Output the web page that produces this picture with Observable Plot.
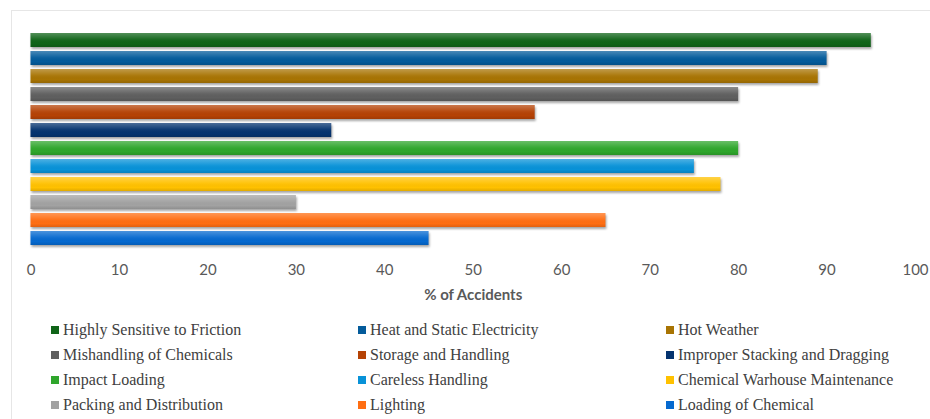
<!DOCTYPE html>
<html>
<head>
<meta charset="utf-8">
<script src="https://cdn.jsdelivr.net/npm/d3@7"></script>
<script src="https://cdn.jsdelivr.net/npm/@observablehq/plot@0.6"></script>
<style>
  html, body { margin: 0; padding: 0; background: #fff; }
  #wrap { position: relative; width: 930px; height: 419px; overflow: hidden; }
  #frame { position: absolute; left: 11px; top: 10px; width: 940px; height: 420px; border-left: 1px solid #e6e6e6; border-top: 1px solid #e6e6e6; }
  #chart { position: absolute; left: 0; top: 0; }
  #legend { position: absolute; left: 51px; top: 317px; display: grid; grid-template-columns: 307px 308px auto; grid-auto-rows: 25px;
    font-family: "Liberation Serif", "Times New Roman", serif; font-size: 16px; color: #404040; }
  .item { display: flex; align-items: center; white-space: nowrap; }
  .sw { width: 8px; height: 8px; margin-right: 4px; display: inline-block; }
</style>
</head>
<body>
<div id="wrap">
  <div id="frame"></div>
  <div id="chart"></div>
  <div id="legend"></div>
</div>
<script>
const categories = [
  "Highly Sensitive to Friction",
  "Heat and Static Electricity",
  "Hot Weather",
  "Mishandling of Chemicals",
  "Storage and Handling",
  "Improper Stacking and Dragging",
  "Impact Loading",
  "Careless Handling",
  "Chemical Warhouse Maintenance",
  "Packing and Distribution",
  "Lighting",
  "Loading of Chemical"
];
const values = [95, 90, 89, 80, 57, 34, 80, 75, 78, 30, 65, 45];
const colors = ["#0f6418", "#035b9b", "#a87403", "#5f5f5f", "#b54205", "#04336f", "#2fa62c", "#0892d8", "#ffc100", "#a2a2a2", "#ff6e12", "#0569cf"];
const xTicks = [0, 10, 20, 30, 40, 50, 60, 70, 80, 90, 100];
const xTitle = "% of Accidents";

const data = categories.map((c, i) => ({category: c, value: values[i]}));

const axisFont = `Lato, "Liberation Sans Narrow", Arial, sans-serif`;

const plot = Plot.plot({
  width: 930,
  height: 312,
  marginTop: 31,
  marginBottom: 65,
  marginLeft: 30.5,
  marginRight: 15,
  style: {fontFamily: axisFont, fontSize: "15px", color: "#595959", background: "transparent"},
  x: {domain: [0, 100], ticks: xTicks, tickSize: 0, tickPadding: 17, label: null},
  y: {domain: categories, paddingInner: 0.2, paddingOuter: 0.1, axis: null},
  color: {domain: categories, range: colors},
  marks: [
    Plot.barX(data, {y: "category", x: "value", fill: "category"}),
    Plot.barX(data, {y: "category", x: "value", fill: "url(#shade)"}),
    Plot.text([xTitle], {frameAnchor: "bottom", dy: 48, lineAnchor: "middle", fontWeight: "bold", fontSize: 15, fill: "#595959"})
  ]
});

const svg = d3.select(plot);
const defs = svg.insert("defs", ":first-child");
const g = defs.append("linearGradient").attr("id", "shade").attr("x1", 0).attr("y1", 0).attr("x2", 0).attr("y2", 1);
g.append("stop").attr("offset", "0%").attr("stop-color", "#fff").attr("stop-opacity", 0.28);
g.append("stop").attr("offset", "45%").attr("stop-color", "#fff").attr("stop-opacity", 0.05);
g.append("stop").attr("offset", "75%").attr("stop-color", "#000").attr("stop-opacity", 0.0);
g.append("stop").attr("offset", "100%").attr("stop-color", "#000").attr("stop-opacity", 0.12);
svg.selectAll("g[aria-label='bar']").filter((d, i) => i === 0)
  .style("filter", "drop-shadow(1px 2px 1px rgba(0,0,0,0.35))");

document.getElementById("chart").appendChild(plot);

const legend = document.getElementById("legend");
categories.forEach((c, i) => {
  const it = document.createElement("div");
  it.className = "item";
  const sw = document.createElement("span");
  sw.className = "sw";
  sw.style.background = colors[i];
  it.appendChild(sw);
  it.appendChild(document.createTextNode(c));
  legend.appendChild(it);
});
</script>
</body>
</html>
